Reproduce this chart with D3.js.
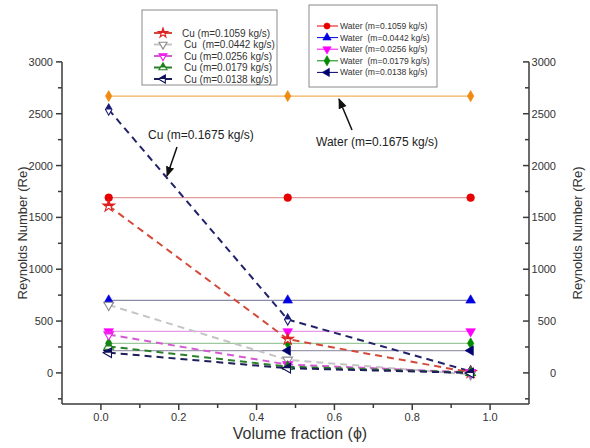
<!DOCTYPE html>
<html><head><meta charset="utf-8">
<script src="https://cdn.jsdelivr.net/npm/d3@7"></script>
<style>body{margin:0;background:#fff;}svg{display:block;font-family:"Liberation Sans",Arial,sans-serif;}</style>
</head><body>
<svg id="c" width="590" height="448"></svg>
<script>
const xValues = [0.02, 0.48, 0.95];
const xTicks = [0, 0.2, 0.4, 0.6, 0.8, 1.0];
const yTicks = [0, 500, 1000, 1500, 2000, 2500, 3000];
const waterNames = ["Water (m=0.1675 kg/s)", "Water (m=0.1059 kg/s)", "Water  (m=0.0442 kg/s)", "Water (m=0.0256 kg/s)", "Water  (m=0.0179 kg/s)", "Water (m=0.0138 kg/s)"];
const waterValues = [2670, 1690, 700, 400, 285, 215];
const cuNames = ["Cu (m=0.1675 kg/s)", "Cu (m=0.1059 kg/s)", "Cu  (m=0.0442 kg/s)", "Cu (m=0.0256 kg/s)", "Cu (m=0.0179 kg/s)", "Cu (m=0.0138 kg/s)"];
const cu1675 = [2540, 515, 15];
const cu1059 = [1610, 325, 5];
const cu0442 = [655, 125, -15];
const cu0256 = [370, 80, 5];
const cu0179 = [255, 60, 3];
const cu0138 = [195, 45, 0];
const cuValues = [cu1675, cu1059, cu0442, cu0256, cu0179, cu0138];

const waterStyle = [
  {line:"#f2b05a", mark:"#f08a10", sym:"diamond"},
  {line:"#e39a9a", mark:"#e80000", sym:"circle"},
  {line:"#8a8aa8", mark:"#0000e0", sym:"up"},
  {line:"#e79ae7", mark:"#ff00ff", sym:"down"},
  {line:"#9cc99c", mark:"#008a00", sym:"diamond"},
  {line:"#9c9cb0", mark:"#00006e", sym:"left"}
];
const cuStyle = [
  {line:"#22226a", mark:"#1a1a7a", sym:"diamond", fill:"half"},
  {line:"#d44a3a", mark:"#e02020", sym:"star", fill:"half"},
  {line:"#c4c4c4", mark:"#8a8a8a", sym:"down", fill:"open"},
  {line:"#d45ad4", mark:"#ee22ee", sym:"down", fill:"half"},
  {line:"#2a802a", mark:"#1a801a", sym:"up", fill:"half"},
  {line:"#1e1e5a", mark:"#10105a", sym:"left", fill:"half"}
];

const svg = d3.select("#c");
const defs = svg.append("defs");
defs.append("clipPath").attr("id","tophalf").append("rect").attr("x",-12).attr("y",-12).attr("width",24).attr("height",12);
const L = 62, R = 529, B = 404;
const x = d3.scaleLinear().domain([-0.1, 1.1]).range([L, R]);
const y = d3.scaleLinear().domain([-300, 3000]).range([B, B - 3300*0.10367]);

function symPath(sym, size){
  const t = {diamond:d3.symbolDiamond, circle:d3.symbolCircle, up:d3.symbolTriangle, down:d3.symbolTriangle, left:d3.symbolTriangle, star:d3.symbolStar}[sym];
  return d3.symbol().type(t).size(size)();
}
function symRot(sym){ return sym==="down"?180:(sym==="left"?-90:0); }
function drawMarker(g, cx, cy, st, size){
  const sz = size || (st.sym==="circle"?46:(st.sym==="diamond"?36:(st.sym==="star"?42:40)));
  const d = symPath(st.sym, sz), rot = "rotate("+symRot(st.sym)+")";
  const m = g.append("g").attr("transform","translate("+cx+","+cy+")");
  if (!st.fill) {
    m.append("path").attr("d", d).attr("transform", rot).attr("fill", st.mark).attr("stroke", st.mark).attr("stroke-width", 0.6);
    return;
  }
  m.append("path").attr("d", d).attr("transform", rot).attr("fill", "#fff");
  if (st.fill === "half") {
    m.append("g").attr("clip-path","url(#tophalf)")
      .append("path").attr("d", d).attr("transform", rot).attr("fill", st.mark);
  }
  m.append("path").attr("d", d).attr("transform", rot).attr("fill", "none").attr("stroke", st.mark).attr("stroke-width", 1.1);
}

// axes
const ax = svg.append("g").attr("stroke","#3a3a3a").attr("stroke-width",1.5).attr("fill","none");
ax.append("line").attr("x1",L).attr("x2",L).attr("y1",y(3000)).attr("y2",B);
ax.append("line").attr("x1",R).attr("x2",R).attr("y1",y(3000)).attr("y2",B);
ax.append("line").attr("x1",L).attr("x2",R).attr("y1",B).attr("y2",B);

const yMinor = d3.range(-250, 3001, 500);
yTicks.forEach(v=>{
  ax.append("line").attr("x1",L-6).attr("x2",L).attr("y1",y(v)).attr("y2",y(v));
  ax.append("line").attr("x1",R-6).attr("x2",R).attr("y1",y(v)).attr("y2",y(v));
});
yMinor.forEach(v=>{
  ax.append("line").attr("x1",L-4).attr("x2",L).attr("y1",y(v)).attr("y2",y(v));
  ax.append("line").attr("x1",R-4).attr("x2",R).attr("y1",y(v)).attr("y2",y(v));
});
xTicks.forEach(v=>{
  ax.append("line").attr("x1",x(v)).attr("x2",x(v)).attr("y1",B).attr("y2",B+6);
});
d3.range(1, 11, 2).map(d=>d/10).forEach(v=>{
  ax.append("line").attr("x1",x(v)).attr("x2",x(v)).attr("y1",B).attr("y2",B+4);
});

const tl = svg.append("g").attr("fill","#333").attr("font-size",11);
yTicks.forEach(v=>{
  tl.append("text").attr("x",53).attr("y",y(v)+4).attr("text-anchor","end").text(v);
  tl.append("text").attr("x",556).attr("y",y(v)+4).attr("text-anchor","end").text(v);
});
xTicks.forEach(v=>{
  tl.append("text").attr("x",x(v)).attr("y",B+17).attr("text-anchor","middle").text(v.toFixed(1));
});
svg.append("text").attr("transform","translate(27,"+((y(3000)+B)/2)+") rotate(-90)")
  .attr("text-anchor","middle").attr("font-size",13).attr("fill","#333").text("Reynolds Number (Re)");
svg.append("text").attr("transform","translate(582,"+((y(3000)+B)/2)+") rotate(-90)")
  .attr("text-anchor","middle").attr("font-size",13).attr("fill","#333").text("Reynolds Number (Re)");
svg.append("text").attr("x",300).attr("y",439).attr("text-anchor","middle").attr("font-size",16).attr("fill","#333").text("Volume fraction (\u03d5)");

// lines
const line = d3.line().x((d,i)=>x(xValues[i])).y(d=>y(d));
const plot = svg.append("g");
waterValues.forEach((v,i)=>{
  plot.append("path").attr("d", line(xValues.map(()=>v))).attr("fill","none")
    .attr("stroke", waterStyle[i].line).attr("stroke-width",1.3);
});
cuValues.forEach((vals,i)=>{
  plot.append("path").attr("d", line(vals)).attr("fill","none")
    .attr("stroke", cuStyle[i].line).attr("stroke-width",2).attr("stroke-dasharray","7,5");
});
const mk = svg.append("g");
waterValues.forEach((v,i)=>{
  xValues.forEach(xv=>drawMarker(mk, x(xv), y(v), waterStyle[i]));
});
cuValues.forEach((vals,i)=>{
  vals.forEach((v,j)=>drawMarker(mk, x(xValues[j]), y(v), cuStyle[i]));
});

// legends
const lg1 = svg.append("g");
lg1.append("rect").attr("x",142).attr("y",10).attr("width",135).attr("height",75).attr("fill","#fff").attr("stroke","#8a8a8a").attr("stroke-width",1);
[1,2,3,4,5].forEach((si,k)=>{
  const yy = 33 + k*11.5;
  lg1.append("line").attr("x1",154).attr("x2",172).attr("y1",yy).attr("y2",yy).attr("stroke",cuStyle[si].line).attr("stroke-width",2);
  drawMarker(lg1, 163, yy, cuStyle[si], 28);
  lg1.append("text").attr("x", k===0?182:184).attr("y",yy+3.5).attr("font-size",10).attr("fill","#333").attr("xml:space","preserve").text(cuNames[si]);
});
const lg2 = svg.append("g");
lg2.append("rect").attr("x",309).attr("y",5).attr("width",128).attr("height",82).attr("fill","#fff").attr("stroke","#8a8a8a").attr("stroke-width",1);
[1,2,3,4,5].forEach((si,k)=>{
  const yy = 26 + k*11.6;
  lg2.append("line").attr("x1",317).attr("x2",338).attr("y1",yy).attr("y2",yy).attr("stroke",waterStyle[si].mark).attr("stroke-width",1);
  drawMarker(lg2, 327, yy, waterStyle[si], 30);
  lg2.append("text").attr("x",340).attr("y",yy+3).attr("font-size",8.6).attr("fill","#333").attr("xml:space","preserve").text(waterNames[si]);
});

// annotations
defs.append("marker").attr("id","ah").attr("viewBox","0 0 10 10").attr("refX",9).attr("refY",5)
  .attr("markerWidth",7).attr("markerHeight",7).attr("orient","auto")
  .append("path").attr("d","M0,1 L10,5 L0,9 Z").attr("fill","#111");
svg.append("text").attr("x",148).attr("y",139).attr("font-size",12).attr("fill","#222").text(cuNames[0]);
svg.append("line").attr("x1",177).attr("y1",147).attr("x2",167).attr("y2",176).attr("stroke","#111").attr("stroke-width",1.5).attr("marker-end","url(#ah)");
svg.append("text").attr("x",438).attr("y",146).attr("text-anchor","end").attr("font-size",12).attr("fill","#222").text(waterNames[0]);
svg.append("line").attr("x1",352).attr("y1",130).attr("x2",339).attr("y2",99).attr("stroke","#111").attr("stroke-width",1.5).attr("marker-end","url(#ah)");
</script>
</body></html>
